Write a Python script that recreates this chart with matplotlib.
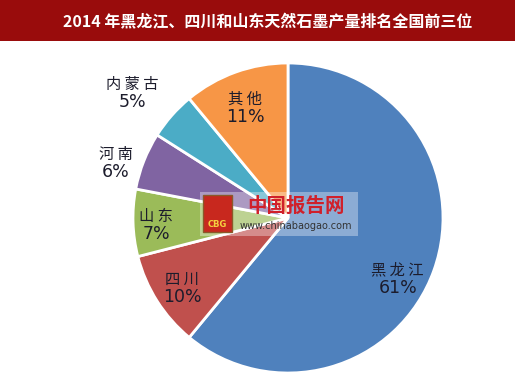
import numpy as np
import matplotlib.pyplot as plt
from matplotlib.patches import Rectangle

plt.rcParams['font.family'] = ['Noto Sans CJK SC', 'DejaVu Sans']

regions = ['黑龙江', '四川', '山东', '河南', '内蒙古', '其他']
shares = [61, 10, 7, 6, 5, 11]
colors = ['#4F81BD', '#C0504D', '#9BBB59', '#8064A2', '#4BACC6', '#F79646']
title = '2014 年黑龙江、四川和山东天然石墨产量排名全国前三位'

# label placement (radius fraction, angle shift in degrees)
label_r = [0.80, 0.81, 0.85, 1.17, 1.30, 0.78]
label_shift = [-8, 0, 0, 3, 2, 1]

W, H = 515, 389
fig = plt.figure(figsize=(W / 100, H / 100), dpi=100)
ax = fig.add_axes([0, 0, 1, 1])

cx, cy, R = 288, H - 218, 155
wedges, _ = ax.pie(shares, colors=colors, startangle=90, counterclock=False,
                   center=(cx, cy), radius=R,
                   wedgeprops=dict(edgecolor='white', linewidth=2))

for w, name, s, rf, sh in zip(wedges, regions, shares, label_r, label_shift):
    ang = np.deg2rad((w.theta1 + w.theta2) / 2 + sh)
    x = cx + rf * R * np.cos(ang)
    y = cy + rf * R * np.sin(ang)
    ax.text(x, y + 6, ' '.join(name), ha='center', va='center', fontsize=11,
            color='#1c1c2c')
    ax.text(x, y - 12, f'{s}%', ha='center', va='center', fontsize=12.5,
            color='#1c1c2c', family='DejaVu Sans')

# title bar
ax.add_patch(Rectangle((0, H - 41), W, 41, facecolor='#990C0C', edgecolor='none', zorder=5))
ax.text(268, H - 22, title, ha='center', va='center', fontsize=11.5,
        fontweight='bold', color='white', zorder=6)

# watermark
ax.add_patch(Rectangle((200, H - 236), 158, 44, facecolor='white', alpha=0.35,
                       edgecolor='none', zorder=3))
ax.add_patch(Rectangle((203, H - 232), 29, 37, facecolor='#C8281E', edgecolor='#8A5A2A',
                       linewidth=1, zorder=4))
ax.text(217.5, H - 224, 'CBG', ha='center', va='center', fontsize=6, fontweight='bold',
        color='#F5D040', family='DejaVu Sans', zorder=5)
ax.text(296, H - 206, '中国报告网', ha='center', va='center', fontsize=14,
        fontweight='bold', color='#D0202A', zorder=5)
ax.text(296, H - 226, 'www.chinabaogao.com', ha='center', va='center', fontsize=7,
        color='#333333', family='DejaVu Sans', zorder=5)

ax.set_xlim(0, W)
ax.set_ylim(0, H)
ax.set_aspect('equal')
ax.axis('off')

fig.savefig('out.png', dpi=100, facecolor='white')
